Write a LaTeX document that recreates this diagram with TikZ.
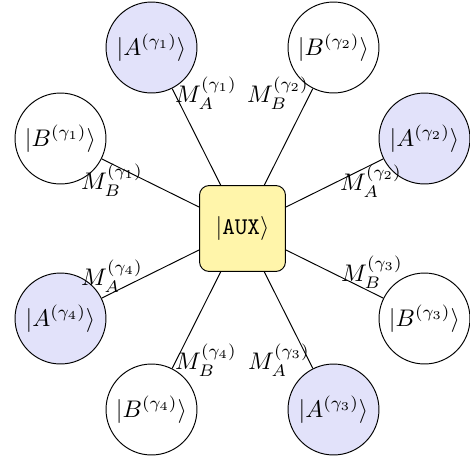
\documentclass[tikz,border=0pt]{standalone}
\definecolor{auxfill}{RGB}{255,245,170}
\definecolor{afill}{RGB}{226,226,250}
\begin{document}
\begin{tikzpicture}[x=0.4167pt,y=-0.4167pt,
  qa/.style={circle,draw,fill=afill,minimum size=37.9pt,inner sep=0pt},
  qb/.style={circle,draw,fill=white,minimum size=37.9pt,inner sep=0pt},
  auxbox/.style={rectangle,rounded corners=4pt,draw,fill=auxfill,minimum size=35.8pt,inner sep=0pt},
  lab/.style={inner sep=0pt}]
\useasboundingbox (0,0) rectangle (470,466);
\node[auxbox] (aux) at (242.5,228.5) {$|\texttt{AUX}\rangle$};
\node[qa] (a1) at (151.5,47.5) {$|A^{(\gamma_1)}\rangle$};
\node[qb] (b2) at (333.5,47.5) {$|B^{(\gamma_2)}\rangle$};
\node[qb] (b1) at (60.5,138.5) {$|B^{(\gamma_1)}\rangle$};
\node[qa] (a2) at (424.5,138.5) {$|A^{(\gamma_2)}\rangle$};
\node[qa] (a4) at (60.5,318.5) {$|A^{(\gamma_4)}\rangle$};
\node[qb] (b3) at (424.5,318.5) {$|B^{(\gamma_3)}\rangle$};
\node[qb] (b4) at (151.5,409.5) {$|B^{(\gamma_4)}\rangle$};
\node[qa] (a3) at (333.5,409.5) {$|A^{(\gamma_3)}\rangle$};
\draw (aux) -- (a1);
\draw (aux) -- (b2);
\draw (aux) -- (b1);
\draw (aux) -- (a2);
\draw (aux) -- (a4);
\draw (aux) -- (b3);
\draw (aux) -- (b4);
\draw (aux) -- (a3);
\node[lab] (la1) at (206,93) {$M_A^{(\gamma_1)}$};
\node[lab] (lb2) at (278,93) {$M_B^{(\gamma_2)}$};
\node[lab] (lb1) at (112,180) {$M_B^{(\gamma_1)}$};
\node[lab] (la2) at (371,181) {$M_A^{(\gamma_2)}$};
\node[lab] (la4) at (112,276) {$M_A^{(\gamma_4)}$};
\node[lab] (lb3) at (372,272) {$M_B^{(\gamma_3)}$};
\node[lab] (lb4) at (206,360) {$M_B^{(\gamma_4)}$};
\node[lab] (la3) at (279,360) {$M_A^{(\gamma_3)}$};
\end{tikzpicture}
\end{document}
